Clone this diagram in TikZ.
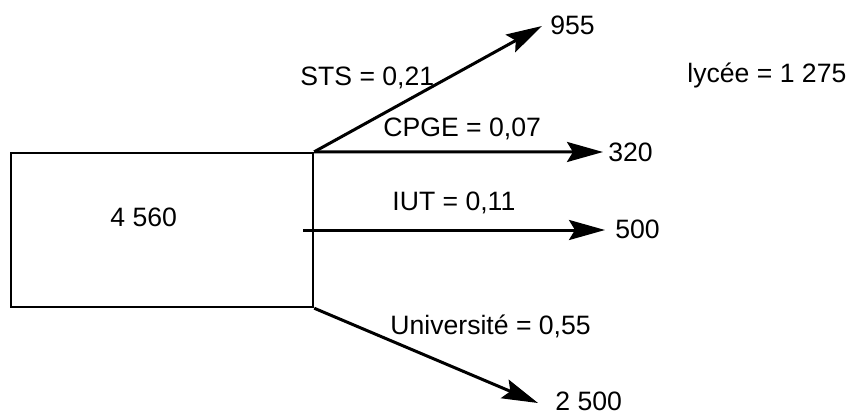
\documentclass[tikz,border=0pt]{standalone}
\usepackage{fontspec}
\setmainfont{Liberation Sans}
\usetikzlibrary{arrows.meta}
\begin{document}
\begin{tikzpicture}[x=0.5pt,y=-0.5pt,
  lbl/.style={anchor=west,inner sep=0pt,font=\fontsize{13.3}{15}\selectfont},
  flow/.style={line width=1.5pt,-{Stealth[length=18pt,width=10pt,inset=3pt]}},
  srcbox/.style={draw,line width=1.2pt,minimum width=151pt,minimum height=77pt,inner sep=0pt}]
\useasboundingbox (0,0) rectangle (856,413);
\node[srcbox] (box) at (162,230) {};
\node[lbl] (total) at (110,217) {4 560};
\coordinate (stsTip) at (542,26);
\coordinate (cpgeTip) at (603,152);
\coordinate (iutTip) at (605,230);
\coordinate (uniTip) at (538,403);
\coordinate (iutStart) at (303,230);
\draw[flow] (box.north east) -- (stsTip);
\draw[flow] (box.north east) -- (cpgeTip);
\draw[flow] (iutStart) -- (iutTip);
\draw[flow] (box.south east) -- (uniTip);
\node[lbl] (n955) at (550,25) {955};
\node[lbl] (n320) at (608,152) {320};
\node[lbl] (n500) at (615,229) {500};
\node[lbl] (n2500) at (555,401) {2 500};
\node[lbl] (sts) at (300,78) {STS = 0,21};
\node[lbl] (cpge) at (383,129) {CPGE = 0,07};
\node[lbl] (iut) at (392,203) {IUT = 0,11};
\node[lbl] (uni) at (390,326) {Université = 0,55};
\node[lbl] (lycee) at (687,75) {lycée = 1 275};
\end{tikzpicture}
\end{document}
